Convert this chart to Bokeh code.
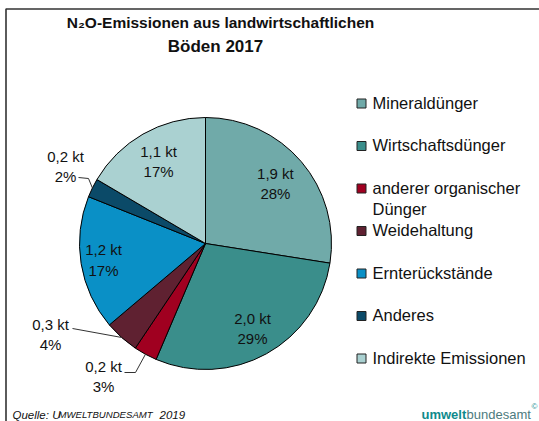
import numpy as np
from bokeh.plotting import figure
from bokeh.models import Range1d, ColumnDataSource
from bokeh.core.properties import value
from bokeh.embed import file_html
from bokeh.resources import INLINE

# ---------------- data ----------------
categories = ["Mineraldünger", "Wirtschaftsdünger", "anderer organischer Dünger",
              "Weidehaltung", "Ernterückstände", "Anderes", "Indirekte Emissionen"]
legend_labels = ["Mineraldünger", "Wirtschaftsdünger", "anderer organischer\nDünger",
                 "Weidehaltung", "Ernterückstände", "Anderes", "Indirekte Emissionen"]
emissions_kt = [1.93, 2.03, 0.21, 0.31, 1.21, 0.17, 1.16]
kt_labels = ["1,9 kt", "2,0 kt", "0,2 kt", "0,3 kt", "1,2 kt", "0,2 kt", "1,1 kt"]
pct_labels = ["28%", "29%", "3%", "4%", "17%", "2%", "17%"]
colors = ["#70aaa9", "#3a8e8b", "#a00020", "#5f2131", "#0a90c6", "#0b4a68", "#aad1d1"]

title_lines = ["N\u2082O-Emissionen aus landwirtschaftlichen", "Böden 2017"]

# ---------------- layout ----------------
W, H = 539, 421
CX, CY, R = 205, 178, 126
FONT = "Liberation Sans"
inside_r = {0: 0.73, 1: 0.77, 4: 0.82, 6: 0.75}
outside = {  # label offset, leader elbow offset, leader end offset (pixels from centre)
    5: ((-140, 77), (-117, 65), (-127, 66)),
    3: ((-155, -91), (-133, -85), (-133, -85)),
    2: ((-102, -133), (-70, -129), (-81, -129)),
}

p = figure(width=W, height=H, output_backend="svg", toolbar_location=None,
           x_range=Range1d(0, W), y_range=Range1d(0, H),
           min_border=0, min_border_left=0, min_border_right=0,
           min_border_top=0, min_border_bottom=0)
p.axis.visible = False
p.grid.visible = False
p.outline_line_color = None
p.background_fill_color = "white"
p.border_fill_color = "white"

# frame
p.line([5.5, 5.5, W], [0, H - 8.5, H - 8.5], line_color="#333333", line_width=1.6)

# pie
vals = np.array(emissions_kt, dtype=float)
frac = vals / vals.sum()
cum = np.cumsum(frac)
start = np.pi / 2 - 2 * np.pi * (cum - frac)
end = np.pi / 2 - 2 * np.pi * cum
src = ColumnDataSource(dict(start=start, end=end, color=colors, cat=categories))
p.wedge(x=CX, y=CY, radius=R, start_angle="start", end_angle="end", direction="clock",
        fill_color="color", line_color="black", line_width=1, source=src)

mid = (start + end) / 2
lx, ly, lt = [], [], []
for i, f in inside_r.items():
    lx.append(CX + f * R * np.cos(mid[i]))
    ly.append(CY + f * R * np.sin(mid[i]))
    lt.append(kt_labels[i] + "\n" + pct_labels[i])
for i, (lab, elb, endp) in outside.items():
    lx.append(CX + lab[0])
    ly.append(CY + lab[1])
    lt.append(kt_labels[i] + "\n" + pct_labels[i])
    ex, ey = CX + R * np.cos(mid[i]), CY + R * np.sin(mid[i])
    p.line([ex, CX + elb[0], CX + endp[0]], [ey, CY + elb[1], CY + endp[1]],
           line_color="#333333", line_width=1)
p.text(x=lx, y=ly, text=lt, text_align="center", text_baseline="middle",
       text_font=value(FONT), text_font_size="15px", text_color="#111111",
       text_line_height=1.2)

# legend
LX, LY0, LSTEP = 361, 318, 42.5
ly_leg = [LY0 - k * LSTEP for k in range(len(categories))]
p.scatter(x=[LX] * len(categories), y=ly_leg, marker="square", size=9,
          fill_color=colors, line_color="#222222", line_width=1)
p.text(x=[LX + 11] * len(categories), y=ly_leg, text=legend_labels, text_align="left",
       text_baseline="top", y_offset=-10, text_font=value(FONT), text_font_size="16.5px",
       text_color="#111111", text_line_height=1.2)

# title
p.text(x=[220], y=[399], text=[title_lines[0]], text_align="center",
       text_baseline="middle", text_font=value(FONT), text_font_size="15.5px",
       text_font_style="bold", text_color="#111111")
p.text(x=[215], y=[375], text=[title_lines[1]], text_align="center",
       text_baseline="middle", text_font=value(FONT), text_font_size="17px",
       text_font_style="bold", text_color="#111111")

# source (small caps emulation)
p.text(x=[12], y=[7], text=["Quelle: U"], text_font=value(FONT), text_font_size="11.5px",
       text_font_style="italic", text_baseline="alphabetic", text_color="#111111")
p.text(x=[58], y=[7], text=["MWELTBUNDESAMT"], text_font=value(FONT), text_font_size="9.6px",
       text_font_style="italic", text_baseline="alphabetic", text_color="#111111")
p.text(x=[159], y=[7], text=["2019"], text_font=value(FONT), text_font_size="11.5px",
       text_font_style="italic", text_baseline="alphabetic", text_color="#111111")

# logo
p.text(x=[421], y=[7], text=["umwelt"], text_font=value(FONT), text_font_size="13px",
       text_font_style="bold", text_baseline="alphabetic", text_color="#0e8a8c")
p.text(x=[466], y=[7], text=["bundesamt"], text_font=value(FONT), text_font_size="13px",
       text_baseline="alphabetic", text_color="#4d7b7e")
p.text(x=[534], y=[15], text=["\u00a9"], text_font=value(FONT), text_font_size="8px",
       text_baseline="alphabetic", text_color="#0e8a8c", text_align="center")

open("out.html", "w").write(file_html(p, INLINE))
